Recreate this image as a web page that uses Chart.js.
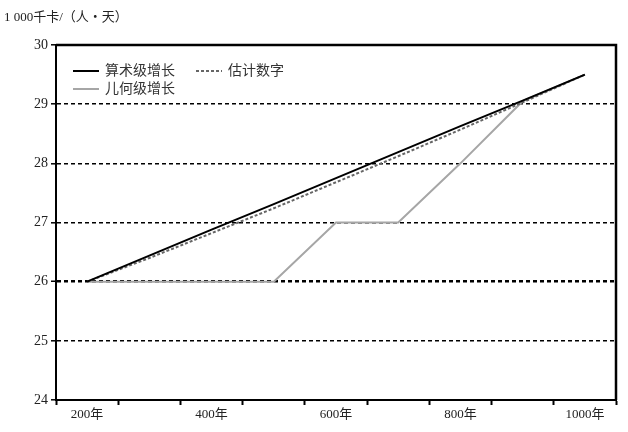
<!DOCTYPE html>
<html>
<head>
<meta charset="utf-8">
<script src="https://cdn.jsdelivr.net/npm/chart.js@4/dist/chart.umd.min.js"></script>
<style>
  html, body { margin: 0; padding: 0; background: #fff; }
  #wrap { width: 628px; height: 432px; }
</style>
</head>
<body>
<div id="wrap"><canvas id="foodChart" width="628" height="432"></canvas></div>
<script>
// data
const years = [200, 300, 400, 500, 600, 700, 800, 900, 1000];
const shownYears = [200, 400, 600, 800, 1000];
const arithmetic = [26, 26.44, 26.88, 27.31, 27.75, 28.19, 28.63, 29.06, 29.5];
const estimate = [26, 26.4, 26.82, 27.24, 27.68, 28.12, 28.57, 29.03, 29.5];
const geometric = [26, 26, 26, 26, 27, 27, 28, 29.05, 29.5];
const yTicks = [24, 25, 26, 27, 28, 29, 30];
const yTitle = '1 000千卡/（人・天）';

const cjk = '"Liberation Serif", "Noto Sans CJK SC", serif';

const frame = {
  id: 'frame',
  afterDraw(chart) {
    const { ctx, chartArea: a } = chart;
    ctx.save();
    ctx.strokeStyle = '#000';
    ctx.lineWidth = 2.5;
    ctx.beginPath();
    ctx.moveTo(a.left, a.top);
    ctx.lineTo(a.right, a.top);
    ctx.lineTo(a.right, a.bottom);
    ctx.stroke();

    // axis title
    ctx.fillStyle = '#222';
    ctx.font = '13px ' + cjk;
    ctx.textBaseline = 'middle';
    ctx.textAlign = 'left';
    ctx.fillText(yTitle, 4, 18);

    // legend inside plot
    const ds = chart.data.datasets;
    const items = [
      { d: ds[0], x: a.left + 17, y: a.top + 26 },
      { d: ds[1], x: a.left + 140, y: a.top + 26 },
      { d: ds[2], x: a.left + 17, y: a.top + 44 }
    ];
    ctx.font = '14px ' + cjk;
    items.forEach(it => {
      ctx.strokeStyle = it.d.borderColor;
      ctx.lineWidth = it.d.borderWidth;
      ctx.setLineDash(it.d.borderDash || []);
      ctx.beginPath();
      ctx.moveTo(it.x, it.y);
      ctx.lineTo(it.x + 26, it.y);
      ctx.stroke();
      ctx.setLineDash([]);
      ctx.fillStyle = '#333';
      ctx.fillText(it.d.label, it.x + 32, it.y);
    });
    ctx.restore();
  }
};

new Chart(document.getElementById('foodChart').getContext('2d'), {
  type: 'line',
  data: {
    labels: years.map(y => y + '年'),
    datasets: [{
      label: '算术级增长',
      data: arithmetic,
      borderColor: '#000',
      borderWidth: 2,
      pointRadius: 0,
      fill: false,
      order: 1
    }, {
      label: '估计数字',
      data: estimate,
      borderColor: '#666',
      borderWidth: 2,
      borderDash: [3, 2],
      pointRadius: 0,
      fill: false,
      order: 2
    }, {
      label: '儿何级增长',
      data: geometric,
      borderColor: '#a6a6a6',
      borderWidth: 2,
      pointRadius: 0,
      fill: false,
      order: 3
    }]
  },
  options: {
    responsive: false,
    animation: false,
    layout: { padding: { top: 45, right: 12, left: 0, bottom: 0 } },
    plugins: {
      legend: { display: false },
      tooltip: { enabled: false }
    },
    scales: {
      x: {
        offset: true,
        grid: {
          offset: true,
          drawOnChartArea: false,
          tickLength: 5,
          tickColor: '#000',
          tickWidth: 2
        },
        border: { color: '#000', width: 2 },
        ticks: {
          autoSkip: false,
          maxRotation: 0,
          padding: 2,
          color: '#222',
          font: { family: cjk, size: 13 },
          callback: (v, i) => shownYears.includes(years[i]) ? years[i] + '年' : ''
        },
        afterFit: s => { s.height = 32; }
      },
      y: {
        min: 24,
        max: 30,
        afterBuildTicks: s => { s.ticks = yTicks.map(v => ({ value: v })); },
        grid: {
          color: c => (c.tick.value > 24 && c.tick.value < 30) ? '#000' : 'rgba(0,0,0,0)',
          lineWidth: c => c.tick.value === 26 ? 2.5 : 1.6,
          tickBorderDash: [],
          tickLength: 5,
          tickColor: '#000',
          tickWidth: 1.5
        },
        border: { color: '#000', width: 2, dash: [4, 3] },
        ticks: {
          padding: 3,
          color: '#222',
          font: { family: cjk, size: 14 }
        },
        afterFit: s => { s.width = 56; }
      }
    }
  },
  plugins: [frame]
});
</script>
</body>
</html>
